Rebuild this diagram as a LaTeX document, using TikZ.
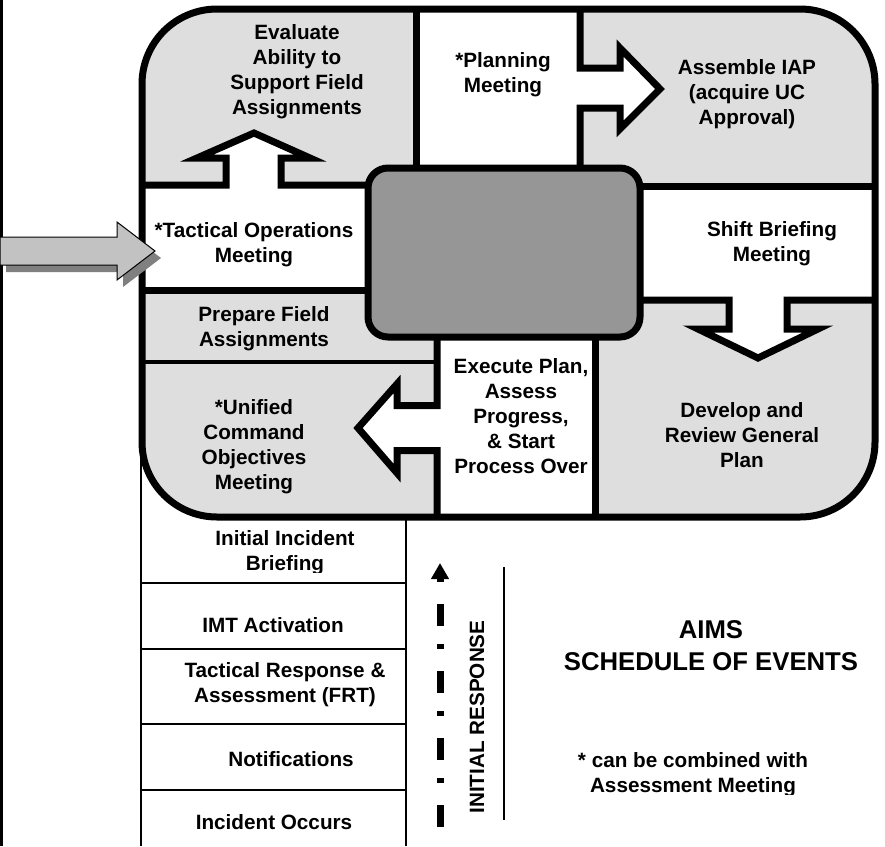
\documentclass[tikz,border=0pt]{standalone}
\usepackage{fontspec}
\setmainfont{Liberation Sans}
\usetikzlibrary{arrows.meta}
\definecolor{cellgray}{gray}{0.87}
\definecolor{hubgray}{gray}{0.59}
\definecolor{ingray}{gray}{0.76}
\definecolor{shadegray}{gray}{0.5}
\tikzset{
  lbl/.style={align=center, inner sep=0pt, font=\fontsize{20.7}{25}\selectfont\bfseries},
  bigl/.style={align=center, inner sep=0pt, font=\fontsize{25.7}{32}\selectfont\bfseries},
  heavy/.style={line width=7pt, line join=miter},
  listline/.style={line width=2pt},
}
\begin{document}
\begin{tikzpicture}[x=1pt, y=-1pt]
  \useasboundingbox[fill=white] (0,0) rectangle (885,846);
  \draw[line width=3pt] (1.5,0) -- (1.5,846);
  \draw[listline] (141,440) -- (141,846);
  \draw[listline] (406,517) -- (406,846);
  \foreach \y in {583,649,724,790} \draw[listline] (141,\y) -- (406,\y);
  \begin{scope}
    \clip (143,519) rectangle (405,572);
    \node[lbl] (iib) at (285,553) {Initial Incident\\Briefing};
  \end{scope}
  \node[lbl] (imt) at (273,625) {IMT Activation};
  \node[lbl] (tra) at (285,685) {Tactical Response \&\\Assessment (FRT)};
  \node[lbl] (notif) at (291,759) {Notifications};
  \node[lbl] (occurs) at (274,822) {Incident Occurs};

  \fill[cellgray, rounded corners=75pt] (142,9) rectangle (875,517);
  \fill[white] (416,9) rectangle (580,168);
  \fill[white] (142,185) rectangle (368,290);
  \fill[white] (640,186) rectangle (875,300);
  \fill[white] (437,337) rectangle (595,517);
  \fill[white] (226,190) -- (226,158) -- (197,158) -- (254,133) -- (310,158) -- (281,158) -- (281,190) -- cycle;
  \fill[white] (575,68) -- (620,68) -- (620,48) -- (660,89) -- (620,129) -- (620,108) -- (575,108) -- cycle;
  \fill[white] (729,295) -- (729,329) -- (698,329) -- (758,358) -- (818,329) -- (787,329) -- (787,295) -- cycle;
  \fill[white] (442,405.5) -- (397,405.5) -- (397,384) -- (358,428) -- (397,473) -- (397,450.5) -- (442,450.5) -- cycle;
  \draw[heavy, fill=hubgray, rounded corners=20pt] (368,168) rectangle (640,337);

  \draw[heavy] (416,9) -- (416,168);
  \draw[heavy] (580,9) -- (580,68) -- (620,68) -- (620,48) -- (660,89) -- (620,129) -- (620,108) -- (580,108) -- (580,168);
  \draw[heavy] (640,186) -- (875,186);
  \draw[heavy] (142,185) -- (226,185) -- (226,158) -- (197,158) -- (254,133) -- (310,158) -- (281,158) -- (281,185) -- (368,185);
  \draw[heavy] (142,290) -- (368,290);
  \draw[heavy] (640,300) -- (729,300) -- (729,329) -- (698,329) -- (758,358) -- (818,329) -- (787,329) -- (787,300) -- (875,300);
  \draw[heavy] (437,337) -- (437,405.5) -- (397,405.5) -- (397,384) -- (358,428) -- (397,473) -- (397,450.5) -- (437,450.5) -- (437,517);
  \draw[heavy] (595,337) -- (595,517);
  \draw[line width=4pt] (142,362) -- (437,362);
  \draw[heavy, rounded corners=75pt] (142,9) rectangle (875,517);

  \node[lbl] (evaluate) at (297,72) {Evaluate\\Ability to\\Support Field\\Assignments};
  \node[lbl] (planning) at (503,75) {*Planning\\Meeting};
  \node[lbl] (assemble) at (747,94) {Assemble IAP\\(acquire UC\\Approval)};
  \node[lbl] (tacops) at (254,245) {*Tactical Operations\\Meeting};
  \node[lbl] (shiftbrief) at (772,244) {Shift Briefing\\Meeting};
  \node[lbl] (prepare) at (264,329) {Prepare Field\\Assignments};
  \node[lbl] (unified) at (254,446.5) {*Unified\\Command\\Objectives\\Meeting};
  \node[lbl] (execute) at (521,416.5) {Execute Plan,\\Assess\\Progress,\\\& Start\\Process Over};
  \node[lbl] (develop) at (742,435) {Develop and\\Review General\\Plan};

  \fill[shadegray] (6,244) -- (123,244) -- (123,229) -- (161,258) -- (123,287) -- (123,272) -- (6,272) -- cycle;
  \filldraw[fill=ingray, line width=1pt] (0,237) -- (117,237) -- (117,222) -- (155,251) -- (117,280) -- (117,265) -- (0,265) -- cycle;

  \coordinate (irbot) at (440,827);
  \coordinate (irtop) at (440,563);
  \draw[line width=7pt, dash pattern=on 22pt off 22pt on 5pt off 18pt, -{Triangle[width=17pt,length=16pt]}] (irbot) -- (irtop);
  \node[lbl, rotate=90] (initresp) at (477,717) {INITIAL RESPONSE};
  \draw[line width=2.5pt] (504,567) -- (504,820);
  \node[bigl] (title) at (711,646) {AIMS\\SCHEDULE OF EVENTS};
  \begin{scope}
    \clip (560,740) rectangle (830,794);
    \node[lbl] (note) at (693,774.5) {* can be combined with\\Assessment Meeting};
  \end{scope}
\end{tikzpicture}
\end{document}
